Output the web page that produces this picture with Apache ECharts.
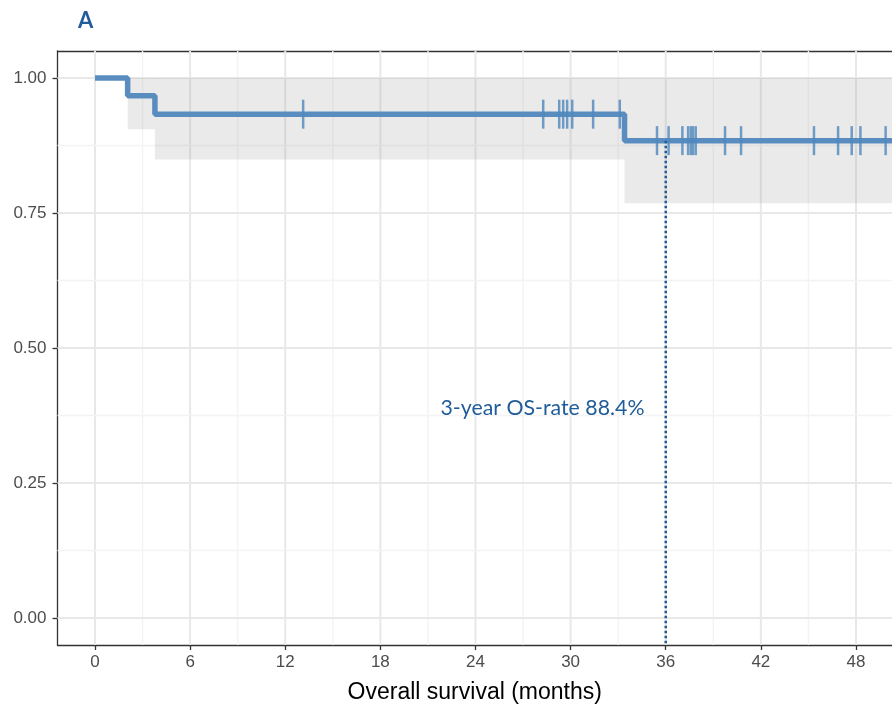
<!DOCTYPE html>
<html>
<head>
<meta charset="utf-8">
<script src="https://cdn.jsdelivr.net/npm/echarts@6/dist/echarts.min.js"></script>
<style>
html,body{margin:0;padding:0;background:#fff;}
#chart{width:892px;height:709px;}
</style>
</head>
<body>
<div id="chart"></div>
<script>
// ---- data ----
const kmTimes = [0, 2.06, 3.78, 33.4, 51.5];
const kmSurv = [1.0, 0.967, 0.933, 0.884, 0.884];

const bandStart = [2.06, 3.78, 33.4];
const bandEnd = [3.78, 33.4, 51.5];
const bandLower = [0.905, 0.849, 0.768];
const bandUpper = [1.0, 1.0, 1.0];

const censorTimes = [13.13, 28.27, 29.28, 29.53, 29.78, 30.1, 31.42, 33.1,
  35.45, 36.18, 37.05, 37.41, 37.58, 37.72, 37.89, 39.74, 40.75, 45.35, 46.87, 47.73, 48.28, 49.87];
const censorSurv = [0.933, 0.933, 0.933, 0.933, 0.933, 0.933, 0.933, 0.933,
  0.884, 0.884, 0.884, 0.884, 0.884, 0.884, 0.884, 0.884, 0.884, 0.884, 0.884, 0.884, 0.884, 0.884];

const xTicks = [0, 6, 12, 18, 24, 30, 36, 42, 48];
const xMinor = [3, 9, 15, 21, 27, 33, 39, 45];
const yTicks = [0, 0.25, 0.5, 0.75, 1.0];
const yMinor = [0.125, 0.375, 0.625, 0.875];

const refTime = 36;
const refSurv = 0.884;
const annotation = '3-year OS-rate 88.4%';
const panelTitle = 'A';
const xTitle = 'Overall survival (months)';

// ---- axis ranges ----
const X_MIN = -2.365, X_MAX = 50.271;
const Y_MIN = -0.05, Y_MAX = 1.05;

const chart = echarts.init(document.getElementById('chart'), null, {renderer: 'canvas'});

const gridData = [];
xTicks.forEach(v => gridData.push([v, 0, 1]));
xMinor.forEach(v => gridData.push([v, 0, 0]));
yTicks.forEach(v => gridData.push([v, 1, 1]));
yMinor.forEach(v => gridData.push([v, 1, 0]));

const BLUE = '#5a8dbf';
const AX = {color: '#333333', width: 1.3};

const option = {
  animation: false,
  backgroundColor: '#ffffff',
  grid: {left: 57.5, top: 51, right: 0, bottom: 61.3, show: false},
  xAxis: [{
    type: 'value', min: X_MIN, max: X_MAX,
    name: xTitle, nameLocation: 'middle', nameGap: 36,
    nameTextStyle: {fontFamily: 'Liberation Sans', fontSize: 23, color: '#000000'},
    axisLine: {show: true, onZero: false, lineStyle: AX},
    axisTick: {show: true, length: 5, customValues: xTicks, lineStyle: AX},
    axisLabel: {show: true, margin: 9, customValues: xTicks, fontFamily: 'Liberation Sans', fontSize: 17, color: '#4d4d4d'},
    splitLine: {show: false}
  }, {
    type: 'value', min: X_MIN, max: X_MAX, position: 'top',
    axisLine: {show: true, onZero: false, lineStyle: AX},
    axisTick: {show: false}, axisLabel: {show: false}, splitLine: {show: false}
  }],
  yAxis: {
    type: 'value', min: Y_MIN, max: Y_MAX,
    axisLine: {show: true, onZero: false, lineStyle: AX},
    axisTick: {show: true, length: 5, customValues: yTicks, lineStyle: AX},
    axisLabel: {show: true, margin: 11, customValues: yTicks, fontFamily: 'Liberation Sans', fontSize: 17, color: '#4d4d4d',
      formatter: v => v.toFixed(2)},
    splitLine: {show: false}
  },
  graphic: [
    {type: 'text', z: 100, left: 78, top: 10, style: {text: panelTitle, font: 'bold 22px Lato', fill: '#1f5c99'}},
    {type: 'text', z: 100, x: 440.5, y: 408.5, style: {text: annotation, font: '21.3px Lato', fill: '#1f5c99', textVerticalAlign: 'middle'}}
  ],
  series: [
    {
      name: 'grid', type: 'custom', z: 1, silent: true, clip: true,
      data: gridData,
      encode: {x: 0, y: 0},
      renderItem: function (params, api) {
        const v = api.value(0), horiz = api.value(1), major = api.value(2);
        let p1, p2;
        if (horiz) { p1 = api.coord([X_MIN, v]); p2 = api.coord([X_MAX, v]); }
        else { p1 = api.coord([v, Y_MIN]); p2 = api.coord([v, Y_MAX]); }
        return {type: 'line', shape: {x1: p1[0], y1: p1[1], x2: p2[0], y2: p2[1]},
          style: {stroke: major ? '#e8e8e8' : '#f3f3f3', lineWidth: major ? 2 : 1.4}};
      }
    },
    {
      name: 'band', type: 'custom', z: 2, silent: true, clip: true,
      data: bandStart.map((s, i) => [s, bandEnd[i], bandLower[i], bandUpper[i]]),
      encode: {x: [0, 1], y: [2, 3]},
      renderItem: function (params, api) {
        const a = api.coord([api.value(0), api.value(3)]);
        const b = api.coord([api.value(1), api.value(2)]);
        return {type: 'rect', shape: {x: a[0], y: a[1], width: b[0] - a[0], height: b[1] - a[1]},
          style: {fill: 'rgba(150,150,150,0.2)'}};
      }
    },
    {
      name: 'survival', type: 'line', z: 3, step: 'end', showSymbol: false, symbol: 'none', silent: true,
      data: kmTimes.map((t, i) => [t, kmSurv[i]]),
      lineStyle: {color: BLUE, width: 5.5}
    },
    {
      name: 'censored', type: 'scatter', z: 4, silent: true,
      symbol: 'rect', symbolSize: [2.5, 29],
      data: censorTimes.map((t, i) => [t, censorSurv[i]]),
      itemStyle: {color: '#4f87bd'}
    },
    {
      name: 'ref', type: 'line', z: 5, showSymbol: false, symbol: 'none', silent: true,
      data: [[refTime, refSurv], [refTime, Y_MIN]],
      lineStyle: {color: '#1f5c99', width: 2.5, type: [2.5, 2.5]}
    }
  ]
};
chart.setOption(option);
</script>
</body>
</html>
